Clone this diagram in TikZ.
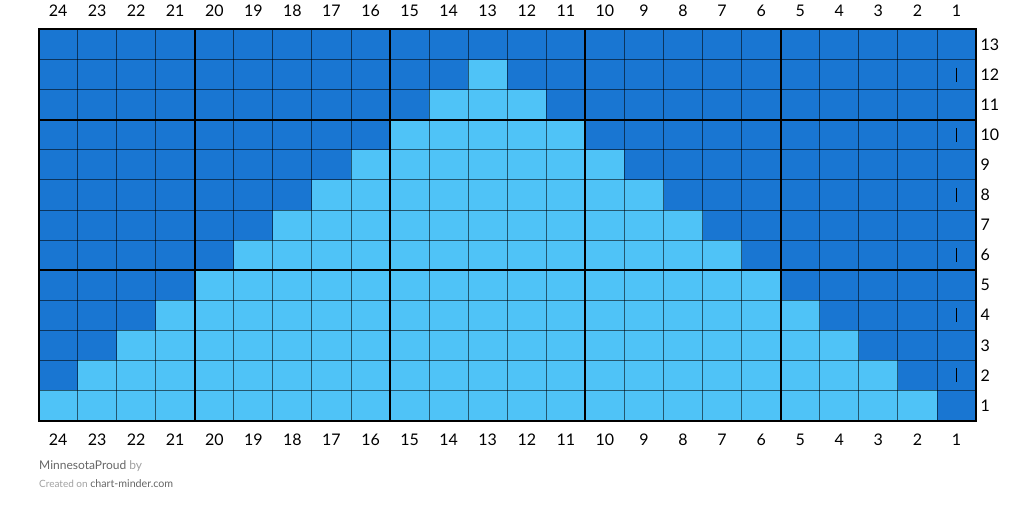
\documentclass[tikz,border=0pt]{standalone}
\usepackage{fontspec}
\setmainfont{Lato}
\definecolor{dk}{HTML}{1976D2}
\definecolor{lt}{HTML}{4FC3F7}
\definecolor{ftdark}{HTML}{666666}
\definecolor{ftlight}{HTML}{A0A0A0}
\tikzset{
  gridline/.style={black,opacity=0.55,line width=0.9pt},
  thickline/.style={black,line width=2pt},
  numlabel/.style={font=\fontsize{16}{18}\selectfont,inner sep=0pt},
  stitchmark/.style={black,line width=1pt}
}
\begin{document}
\begin{tikzpicture}[x=1pt,y=-1pt]
\useasboundingbox (0,0) rectangle (1014,513);
\def\Xo{38.5}\def\Yo{29.5}\def\cw{39.0625}\def\ch{30.08}
% cells
\foreach \r in {1,...,13}{
  \foreach \c in {1,...,24}{
    \pgfmathtruncatemacro\lit{and(\c>\r,\c<26-\r)}
    \ifnum\lit=1 \def\fc{lt}\else\def\fc{dk}\fi
    \fill[\fc] ({\Xo+(24-\c)*\cw},{\Yo+(13-\r)*\ch}) rectangle ({\Xo+(25-\c)*\cw},{\Yo+(14-\r)*\ch});
  }
}
% thin grid
\foreach \i in {1,...,23}{
  \draw[gridline] ({\Xo+\i*\cw},{\Yo}) -- ({\Xo+\i*\cw},{\Yo+13*\ch});
}
\foreach \j in {1,...,12}{
  \draw[gridline] ({\Xo},{\Yo+\j*\ch}) -- ({\Xo+24*\cw},{\Yo+\j*\ch});
}
% thick lines
\foreach \i in {4,9,14,19}{
  \draw[thickline] ({\Xo+\i*\cw},{\Yo}) -- ({\Xo+\i*\cw},{\Yo+13*\ch});
}
\foreach \j in {3,8}{
  \draw[thickline] ({\Xo},{\Yo+\j*\ch}) -- ({\Xo+24*\cw},{\Yo+\j*\ch});
}
\draw[thickline] (\Xo,\Yo) rectangle ({\Xo+24*\cw},{\Yo+13*\ch});
% stitch marks in column 1
\foreach \r in {2,4,...,12}{
  \draw[stitchmark] ({\Xo+23.5*\cw},{\Yo+(13.5-\r)*\ch-7}) -- ({\Xo+23.5*\cw},{\Yo+(13.5-\r)*\ch+7});
}
% column labels
\foreach \c in {1,...,24}{
  \node[numlabel] (top\c) at ({\Xo+(24.5-\c)*\cw},11) {\c};
  \node[numlabel] (bot\c) at ({\Xo+(24.5-\c)*\cw},439.5) {\c};
}
% row labels
\foreach \r in {1,...,13}{
  \node[numlabel,anchor=west] (row\r) at (980.5,{\Yo+(13.5-\r)*\ch}) {\r};
}
% footer
\node[anchor=base west,inner sep=0pt] (credit) at (39,469)
  {\fontsize{12}{14}\selectfont\color{ftdark}MinnesotaProud\color{ftlight}\ by};
\node[anchor=base west,inner sep=0pt] (site) at (39,487)
  {\fontsize{10}{12}\selectfont\color{ftlight}Created on \fontsize{10.7}{13}\selectfont\color{ftdark}chart-minder.com};
\end{tikzpicture}
\end{document}
